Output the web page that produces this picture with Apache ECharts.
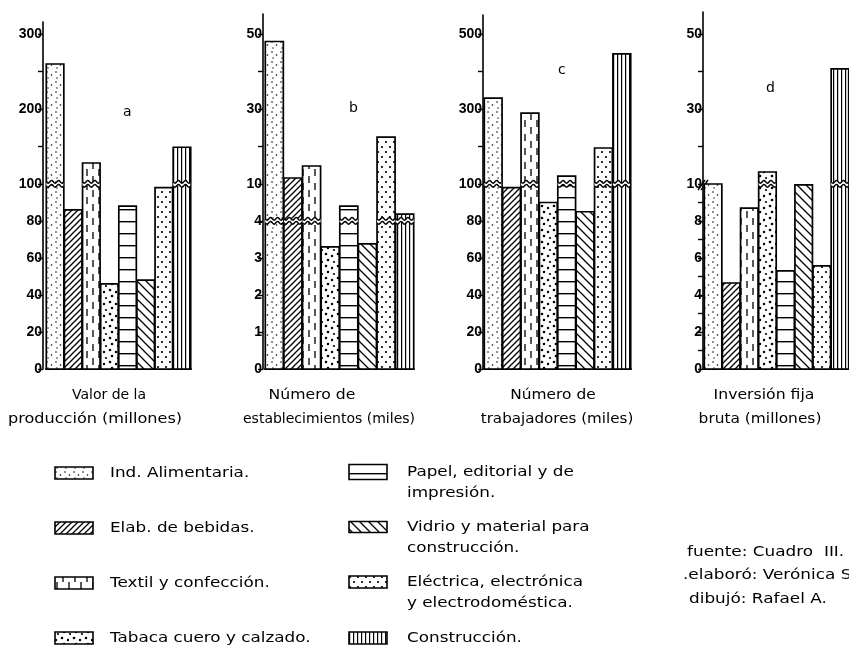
<!DOCTYPE html>
<html><head><meta charset="utf-8">
<script src="https://cdn.jsdelivr.net/npm/echarts@6/dist/echarts.min.js"></script>
<style>html,body{margin:0;padding:0;background:#fff}#c{width:849px;height:654px}</style>
</head><body><div id="c"></div>
<script>
// ---- data ----
const categories = ['Ind. Alimentaria', 'Elab. de bebidas', 'Textil y confección', 'Tabaco, cuero y calzado',
  'Papel, editorial y de impresión', 'Vidrio y material para construcción', 'Eléctrica, electrónica y electrodoméstica', 'Construcción'];
const legendLabels = ['Ind. Alimentaria.', 'Elab. de bebidas.', 'Textil y confección.', 'Tabaca cuero y calzado.',
  'Papel, editorial y de\nimpresión.', 'Vidrio y material para\nconstrucción.', 'Eléctrica, electrónica\ny electrodoméstica.', 'Construcción.'];
const valorProduccion = [260, 86, 128, 46, 88, 48, 98, 149];          // millones
const numEstablecimientos = [48, 11.6, 14.8, 3.3, 6.4, 3.38, 22.5, 5.1]; // miles
const numTrabajadores = [329, 98, 289, 90, 121, 85, 196, 447];        // miles
const inversionFija = [10, 4.65, 8.7, 13.2, 5.3, 9.95, 5.57, 40.7];   // millones
const panelTitles = [['Valor de la', 'producción (millones)'], ['Número de', 'establecimientos (miles)'],
  ['Número de', 'trabajadores (miles)'], ['Inversión fija', 'bruta (millones)']];
const panelLetters = ['a', 'b', 'c', 'd'];
const tickLabelsA = [0, 20, 40, 60, 80, 100, 200, 300], minorA = [150, 250];
const tickLabelsB = [0, 1, 2, 3, 4, 10, 30, 50], minorB = [20, 40];
const tickLabelsC = [0, 20, 40, 60, 80, 100, 300, 500], minorC = [200, 400];
const tickLabelsD = [0, 2, 4, 6, 8, 10, 30, 50], minorD = [1, 3, 5, 7, 9, 20, 40];
// broken (piecewise) scale: [value, position] pairs
const scaleA = [[0, 0], [100, 185], [300, 335]];
const scaleB = [[0, 0], [4, 148], [10, 185], [50, 335]];
const scaleC = [[0, 0], [100, 185], [500, 335]];
const scaleD = [[0, 0], [10, 185], [50, 335]];
const breakA = 100, breakB = 4, breakC = 100, breakD = 10;
const credits = ['fuente: Cuadro  III.', '.elaboró: Verónica S', 'dibujó: Rafael A.'];

// ---- layout ----
const BASE = 369;
const panels = [
  { vals: valorProduccion, ticks: tickLabelsA, minor: minorA, scale: scaleA, brk: breakA, left: 46, width: 145, off: 3, top: 22, letter: [127, 112],
    title: [[109, 395, 1.0], [95, 419, 1.15]] },
  { vals: numEstablecimientos, ticks: tickLabelsB, minor: minorB, scale: scaleB, brk: breakB, left: 265, width: 149, off: 2, top: 14, letter: [353, 108],
    title: [[312, 395, 1.12], [329, 419, 1.0]] },
  { vals: numTrabajadores, ticks: tickLabelsC, minor: minorC, scale: scaleC, brk: breakC, left: 484, width: 147, off: 1, top: 15, letter: [562, 70],
    title: [[553, 395, 1.1], [557, 419, 1.08]] },
  { vals: inversionFija, ticks: tickLabelsD, minor: minorD, scale: scaleD, brk: breakD, left: 704, width: 148, off: 1, top: 12, letter: [770, 88],
    title: [[764, 395, 1.12], [760, 419, 1.1]] }
];
function tf(scale, v) {
  for (let k = 1; k < scale.length; k++) {
    const a = scale[k - 1], b = scale[k];
    if (v <= b[0] || k === scale.length - 1) return a[1] + (v - a[0]) * (b[1] - a[1]) / (b[0] - a[0]);
  }
}

// ---- patterns ----
function tile(w, h, draw) {
  const c = document.createElement('canvas'); c.width = w; c.height = h;
  const g = c.getContext('2d'); g.fillStyle = '#fff'; g.fillRect(0, 0, w, h);
  g.fillStyle = '#000'; g.strokeStyle = '#000'; draw(g); return { image: c, repeat: 'repeat' };
}
function dot(g, x, y, r) { g.beginPath(); g.arc(x, y, r, 0, Math.PI * 2); g.fill(); }
const patterns = [
  tile(9, 10, g => { dot(g, 2, 2, 0.8); dot(g, 6.5, 5, 0.8); dot(g, 3, 8, 0.7); }),
  tile(6, 6, g => { g.lineWidth = 1.3; g.beginPath(); g.moveTo(-1, 7); g.lineTo(7, -1); g.moveTo(-1, 1); g.lineTo(1, -1); g.moveTo(5, 7); g.lineTo(7, 5); g.stroke(); }),
  tile(12, 14, g => { g.lineWidth = 1.3; g.beginPath(); g.moveTo(3, 1); g.lineTo(3, 8); g.moveTo(9, 8); g.lineTo(9, 14); g.moveTo(9, 0); g.lineTo(9, 1); g.stroke(); }),
  tile(12, 12, g => { dot(g, 2, 2, 1.3); dot(g, 8, 4, 1.2); dot(g, 4, 8, 1.3); dot(g, 10, 10, 1.1); }),
  tile(4, 12, g => { g.fillRect(0, 5, 4, 1.4); }),
  tile(9, 9, g => { g.lineWidth = 1.3; g.beginPath(); g.moveTo(-1, -1); g.lineTo(10, 10); g.moveTo(-1, 8); g.lineTo(1, 10); g.moveTo(8, -1); g.lineTo(10, 1); g.stroke(); }),
  tile(8, 10, g => { dot(g, 2, 2, 1.1); dot(g, 6, 7, 1.1); }),
  tile(4, 4, g => { g.fillRect(1, 0, 1.2, 4); })
];

function wave(x0, w, y, amp, per) {
  const pts = [];
  for (let px = 0; px <= w; px += 1) pts.push([x0 + px, y + amp * Math.sin(2 * Math.PI * px / per)]);
  return pts;
}
function makeRender(p) {
  return function (params, api) {
    const i = api.value(0), t = api.value(1), raw = api.value(2);
    const base = api.coord([i, 0]), top = api.coord([i, t]);
    const band = api.size([1, 0])[0];
    const w = band - 0.6, x = base[0] - w / 2;
    const ch = [{ type: 'rect', shape: { x: x, y: top[1], width: w, height: base[1] - top[1] },
      style: { fill: patterns[i], stroke: '#000', lineWidth: 1.7 } }];
    if (raw > p.brk) {
      const yb = api.coord([i, tf(p.scale, p.brk)])[1];
      const up = wave(x, w, yb - 2.2, 1.4, 7), dn = wave(x, w, yb + 1.8, 1.4, 7);
      ch.push({ type: 'polygon', shape: { points: up.concat(dn.slice().reverse()) }, style: { fill: '#fff', stroke: null } });
      ch.push({ type: 'polyline', shape: { points: up }, style: { stroke: '#000', lineWidth: 1.4, fill: null } });
      ch.push({ type: 'polyline', shape: { points: dn }, style: { stroke: '#000', lineWidth: 1.4, fill: null } });
    }
    return { type: 'group', children: ch };
  };
}

const FONT = "'DejaVu Sans', 'Liberation Sans', sans-serif";
const grid = [], xAxis = [], yAxis = [], series = [], graphic = [];
panels.forEach((p, k) => {
  const max = BASE - p.top;
  grid.push({ left: p.left, width: p.width, top: p.top, height: max });
  xAxis.push({ type: 'category', gridIndex: k, data: categories, boundaryGap: true,
    axisLine: { show: true, lineStyle: { color: '#000', width: 1.8 } }, axisTick: { show: false }, axisLabel: { show: false } });
  const labT = p.ticks.map(v => tf(p.scale, v));
  const allT = p.ticks.concat(p.minor).map(v => tf(p.scale, v));
  const lookup = {}; p.ticks.forEach((v, j) => { lookup[labT[j].toFixed(2)] = String(v); });
  yAxis.push({ type: 'value', gridIndex: k, min: 0, max: max, offset: p.off, splitLine: { show: false },
    axisLine: { show: true, lineStyle: { color: '#000', width: 1.6 } },
    axisTick: { show: true, length: 5, customValues: allT, lineStyle: { color: '#000', width: 1.4 } },
    axisLabel: { show: true, customValues: labT, margin: 1, color: '#000', fontSize: 14, fontWeight: 'bold',
      fontFamily: "'Liberation Sans', sans-serif", formatter: v => lookup[Number(v).toFixed(2)] || '' } });
  series.push({ type: 'custom', xAxisIndex: k, yAxisIndex: k, renderItem: makeRender(p), clip: false,
    encode: { x: 0, y: 1 }, silent: true,
    data: p.vals.map((v, i) => [i, tf(p.scale, v), v]) });
  graphic.push({ type: 'text', x: p.letter[0] - 4, y: p.letter[1], style: { text: panelLetters[k], fontSize: 14, fontFamily: FONT, fill: '#000', verticalAlign: 'middle' } });
  p.title.forEach((pos, j) => graphic.push({ type: 'text', x: pos[0], y: pos[1], scaleX: pos[2], style: { text: panelTitles[k][j], fontSize: 14, fontFamily: FONT, fill: '#000', align: 'center', verticalAlign: 'middle' } }));
});
// break mark on axis d
graphic.push({ type: 'polyline', shape: { points: [[698, 190], [705, 180]] }, style: { stroke: '#000', lineWidth: 1.4 } });
graphic.push({ type: 'polyline', shape: { points: [[701, 190], [708, 180]] }, style: { stroke: '#000', lineWidth: 1.4 } });

// legend
const legL = { sx: 55, tx: 110, ys: [473, 528, 583, 638] };
const legR = { sx: 349, tx: 407, ys: [472, 527, 582, 638] };
const swH = [12, 12, 12, 12, 15, 11, 12, 12];
categories.forEach((c, i) => {
  const L = i < 4 ? legL : legR, y = L.ys[i % 4];
  graphic.push({ type: 'rect', shape: { x: L.sx, y: y - swH[i] / 2, width: 38, height: swH[i] }, style: { fill: patterns[i], stroke: '#000', lineWidth: 1.6 } });
  graphic.push({ type: 'text', x: L.tx, y: y - 10.5, scaleX: 1.2, style: { text: legendLabels[i], fontSize: 14, lineHeight: 21, fontFamily: FONT, fill: '#000' } });
});
const credX = [687, 683, 689], credY = [552, 575, 599];
credits.forEach((s, j) => graphic.push({ type: 'text', x: credX[j], y: credY[j], scaleX: 1.25, style: { text: s, fontSize: 13.5, fontFamily: FONT, fill: '#000', verticalAlign: 'middle' } }));

const chart = echarts.init(document.getElementById('c'), null, { renderer: 'canvas' });
chart.setOption({ backgroundColor: '#fff', animation: false, grid, xAxis, yAxis, series, graphic });
</script></body></html>
